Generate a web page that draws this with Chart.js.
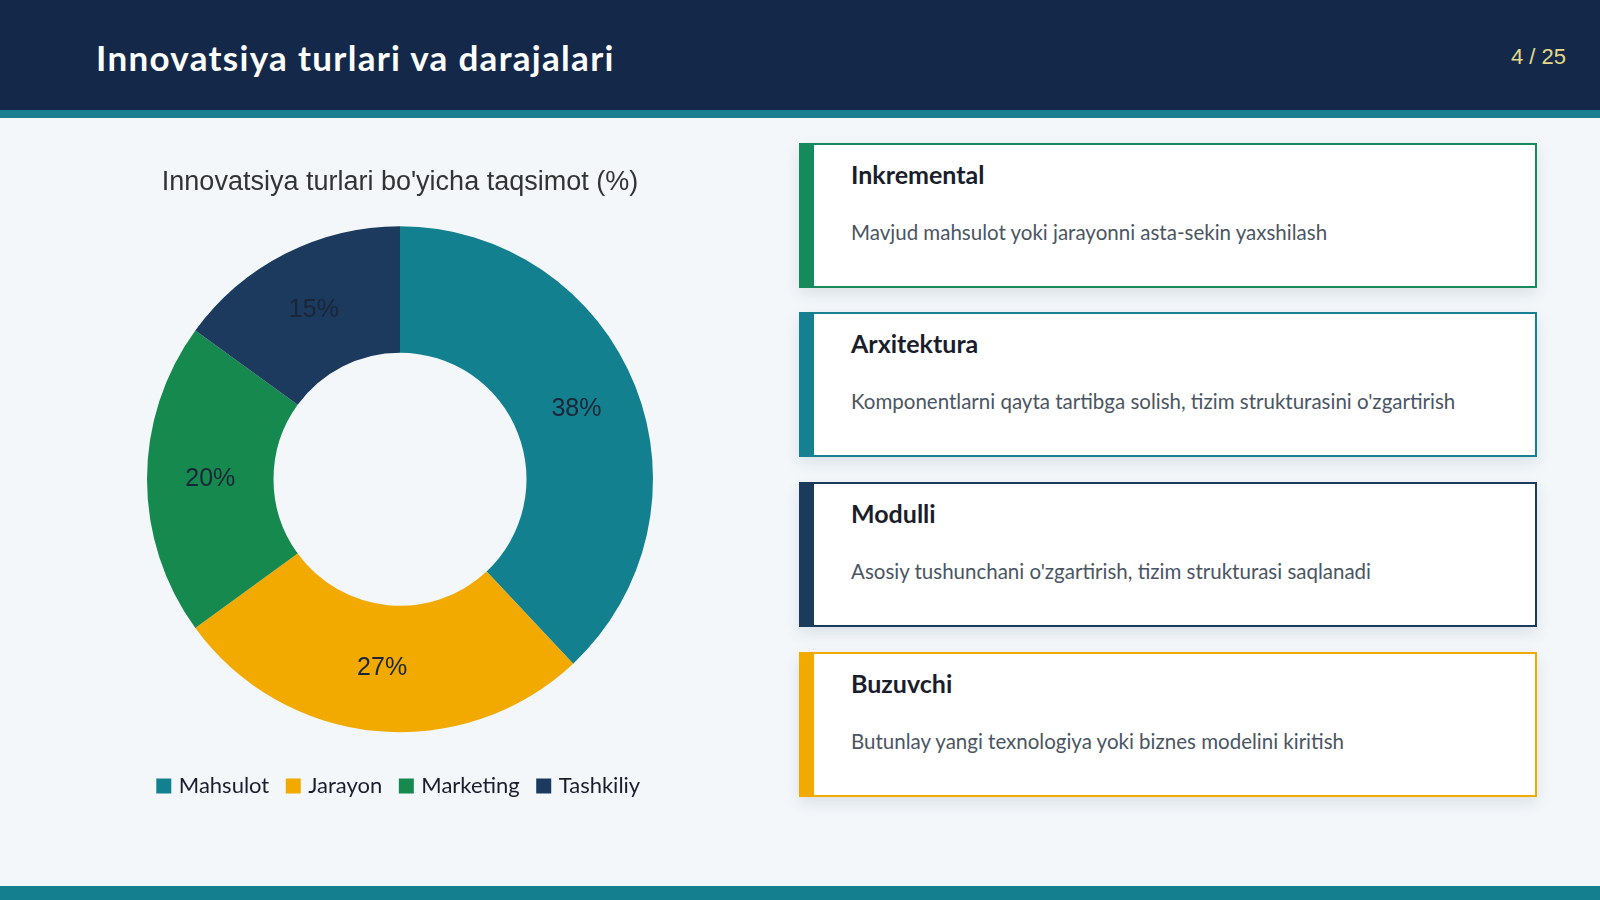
<!DOCTYPE html>
<html>
<head>
<meta charset="utf-8">
<script src="https://cdn.jsdelivr.net/npm/chart.js@4.4.1/dist/chart.umd.min.js"></script>
<style>
  html, body { margin: 0; padding: 0; }
  body { width: 1600px; height: 900px; background: #f3f7fa; position: relative; overflow: hidden; font-family: Lato, sans-serif; }
  #header { position: absolute; left: 0; top: 0; width: 1600px; height: 110px; background: #14284a; }
  #stripe { position: absolute; left: 0; top: 110px; width: 1600px; height: 8px; background: #1a7f8e; }
  #footer { position: absolute; left: 0; top: 886px; width: 1600px; height: 14px; background: #137f8f; }
  #title { position: absolute; left: 96px; top: 36px; margin: 0; font: bold 35px/1.2 Lato, sans-serif; letter-spacing: 1.3px; color: #ffffff; }
  #pagenum { position: absolute; right: 34px; top: 44px; font: 22px/1.2 "Liberation Sans", Arial, sans-serif; color: #e5d98a; }
  #chartBox { position: absolute; left: 100px; top: 140px; width: 600px; height: 667px; }
  .card { position: absolute; left: 799px; width: 721px; height: 141px; background: #ffffff; border: 2px solid; border-left-width: 15px; box-shadow: 0 6px 14px rgba(20, 40, 70, 0.10); }
  .card h3 { margin: 14px 0 0 37px; font: bold 25px/1.2 Lato, sans-serif; color: #1a1d2b; }
  .card p { margin: 31px 0 0 37px; font: 20.5px/1.2 Lato, sans-serif; color: #4a5563; }
</style>
</head>
<body>
<div id="header"></div>
<div id="stripe"></div>
<div id="footer"></div>
<h1 id="title">Innovatsiya turlari va darajalari</h1>
<div id="pagenum">4 / 25</div>

<div id="chartBox"><canvas id="donut"></canvas></div>

<div class="card" style="top:143px; border-color:#178a5c;">
  <h3>Inkremental</h3>
  <p>Mavjud mahsulot yoki jarayonni asta-sekin yaxshilash</p>
</div>
<div class="card" style="top:312px; border-color:#168091;">
  <h3>Arxitektura</h3>
  <p>Komponentlarni qayta tartibga solish, tizim strukturasini o'zgartirish</p>
</div>
<div class="card" style="top:482px; border-color:#1c3a5c;">
  <h3>Modulli</h3>
  <p>Asosiy tushunchani o'zgartirish, tizim strukturasi saqlanadi</p>
</div>
<div class="card" style="top:652px; border-color:#f2a900;">
  <h3>Buzuvchi</h3>
  <p>Butunlay yangi texnologiya yoki biznes modelini kiritish</p>
</div>

<script>
const categories = ["Mahsulot", "Jarayon", "Marketing", "Tashkiliy"];
const shares = [38, 27, 20, 15];
const sliceColors = ["#13808f", "#f2a900", "#16894f", "#1b3a5e"];

// percent labels in the middle of each slice
const sliceLabels = {
    id: 'sliceLabels',
    afterDatasetsDraw(chart) {
        const ctx = chart.ctx;
        const meta = chart.getDatasetMeta(0);
        ctx.save();
        ctx.font = '25px "Liberation Sans", Arial, sans-serif';
        ctx.fillStyle = '#1a2638';
        ctx.textAlign = 'center';
        ctx.textBaseline = 'middle';
        meta.data.forEach((arc, i) => {
            const pos = arc.tooltipPosition();
            ctx.fillText(chart.data.datasets[0].data[i] + '%', pos.x, pos.y);
        });
        ctx.restore();
    }
};

document.addEventListener('DOMContentLoaded', ()=> {
    new Chart("donut", {
        type: "doughnut",
        data: {
            labels: categories,
            datasets: [{
                data: shares,
                backgroundColor: sliceColors,
                borderWidth: 0,
                radius: 253,
                cutout: '50%'
            }]
        },
        options: {
            responsive: true,
            maintainAspectRatio: false,
            animation: false,
            plugins: {
                title: {
                    display: true,
                    text: "Innovatsiya turlari bo'yicha taqsimot (%)",
                    color: '#333333',
                    font: {family: '"Liberation Sans", Arial, sans-serif', size: 27, weight: 'normal'},
                    padding: {top: 26, bottom: 5}
                },
                legend: {
                    position: 'bottom',
                    labels: {
                        usePointStyle: true,
                        pointStyle: 'rect',
                        boxWidth: 8,
                        boxHeight: 15,
                        padding: 20,
                        color: '#1a1d2b',
                        font: {family: 'Lato, sans-serif', size: 22}
                    }
                },
                tooltip: {enabled: false}
            }
        },
        plugins: [sliceLabels]
    });
});
</script>
</body>
</html>
